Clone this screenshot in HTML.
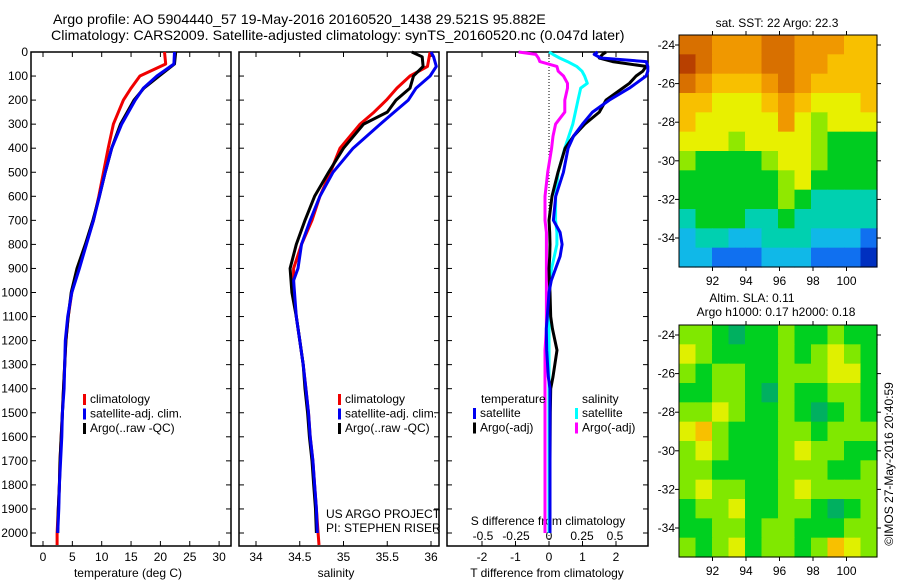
<!DOCTYPE html>
<html><head><meta charset="utf-8">
<style>
html,body{margin:0;padding:0;background:#fff;}
svg{display:block;font-family:"Liberation Sans",sans-serif;}
text{fill:#000;}
</style></head>
<body>
<svg id="fig" width="900" height="580" viewBox="0 0 900 580" xmlns="http://www.w3.org/2000/svg">
<text x="53" y="24" font-size="14.25">Argo profile: AO 5904440_57 19-May-2016 20160520_1438 29.521S 95.882E</text>
<text x="51" y="40" font-size="14.25">Climatology: CARS2009. Satellite-adjusted climatology: synTS_20160520.nc (0.047d later)</text>
</svg>
<script>
// ---------- data ----------
const depthTicks = [0,100,200,300,400,500,600,700,800,900,1000,1100,1200,1300,1400,1500,1600,1700,1800,1900,2000];
const tempTicks = [0,5,10,15,20,25,30];
const salTicks = [34,34.5,35,35.5,36];
const salTickLabels = ["34","34.5","35","35.5","36"];
const tdiffTicks = [-2,-1,0,1,2];
const sdiffTicks = [-0.5,-0.25,0,0.25,0.5];
const sdiffTickLabels = ["-0.5","-0.25","0","0.25","0.5"];

const tDepth = [0,50,100,150,200,300,400,500,600,700,800,900,1000,1100,1200,1300,1400,1500,1600,1700,1800,1900,2000,2050];
const tempClim = [20.7,20.9,16.5,15.0,13.7,12.0,11.1,10.3,9.5,8.6,7.3,6.0,4.9,4.3,3.9,3.7,3.5,3.3,3.1,2.9,2.8,2.6,2.4,2.4];
const tempSat  = [22.4,22.3,19.4,17.1,15.7,13.4,11.7,10.6,9.6,8.6,7.4,6.2,4.9,4.2,3.8,3.7,3.6,3.3,3.2,3.0,2.8,2.7,2.5];
const tempArgo = [22.6,22.4,19.8,17.2,15.5,13.2,11.7,10.6,9.6,8.5,7.2,5.8,4.8,4.3,3.9,3.7,3.5,3.3,3.1,2.9,2.8,2.6,2.5];

const sDepth = [0,20,60,100,150,200,250,300,400,500,600,700,800,900,950,1000,1100,1200,1300,1400,1500,1600,1700,1800,1900,2000,2050];
const salClim = [35.99,35.98,35.96,35.76,35.61,35.49,35.35,35.19,34.96,34.85,34.73,34.64,34.52,34.43,34.43,34.43,34.46,34.50,34.54,34.57,34.60,34.62,34.65,34.67,34.69,34.71,34.72];
const salSat  = [36.00,36.03,36.06,35.99,35.83,35.74,35.58,35.42,35.11,34.88,34.73,34.62,34.52,34.48,34.43,34.44,34.46,34.50,34.54,34.57,34.60,34.62,34.65,34.67,34.69,34.70];
const salArgo = [35.78,35.90,35.91,35.80,35.76,35.60,35.50,35.23,35.00,34.83,34.67,34.56,34.46,34.39,34.40,34.41,34.46,34.50,34.54,34.56,34.59,34.61,34.64,34.66,34.68,34.69];

const dDepth = [0,10,25,40,60,80,100,130,150,200,250,300,350,400,500,600,700,750,800,850,900,950,1000,1100,1150,1240,1350,1400,1500,1700,2000];
const tdiffSat  = [1.45,1.35,1.55,2.9,2.95,2.95,2.9,2.6,2.4,1.8,1.3,1.0,0.73,0.57,0.43,0.2,0.13,0.33,0.39,0.33,0.2,0.07,0.0,-0.05,-0.08,-0.07,-0.02,0.03,0.03,0.03,0.03];
const tdiffArgo = [1.7,1.6,1.5,1.9,2.9,2.8,2.6,2.4,2.2,1.7,1.5,1.07,0.73,0.48,0.27,0.09,0.0,0.02,0.03,0.02,0.0,0.01,0.03,0.05,0.1,0.24,0.12,0.05,0.04,0.03,0.03];
const sdiffSat  = [0.0,0.03,0.08,0.14,0.21,0.25,0.27,0.29,0.24,0.22,0.2,0.18,0.15,0.12,0.07,0.05,0.05,0.06,0.06,0.04,0.02,0.01,0.0,0.0,0.0,0.0,0.0,0.0,0.0,0.0,0.0];
const sdiffArgo = [-0.23,-0.1,-0.08,-0.07,0.06,0.07,0.11,0.14,0.14,0.12,0.12,0.05,0.03,0.02,-0.01,-0.03,-0.03,-0.02,-0.02,-0.02,-0.02,-0.02,-0.02,-0.02,-0.02,-0.03,-0.03,-0.03,-0.03,-0.03,-0.03];

const latTicks = [-24,-26,-28,-30,-32,-34];
const lonTicks = [92,94,96,98,100];
const sstGrid = [
 [9,9,8,8,8,9,9,8,8,8,7,7],
 [10,9,8,8,8,9,9,8,8,7,7,7],
 [9,8,7,7,7,8,9,8,7,7,7,7],
 [7,7,6,6,6,7,8,7,6,6,6,7],
 [7,6,6,6,6,6,8,6,5,6,6,6],
 [6,6,6,5,6,6,6,6,5,4,4,4],
 [5,4,4,4,4,5,6,6,5,4,4,4],
 [4,4,4,4,4,4,5,6,4,4,4,4],
 [4,4,4,4,4,4,5,4,3,3,3,3],
 [3,4,4,4,3,3,4,3,3,3,3,3],
 [2,3,3,2,2,3,3,3,2,2,2,1],
 [2,2,1,1,1,2,2,2,1,1,1,0]];
const slaGrid = [
 [2,2,1,0,1,1,2,1,1,2,1,1],
 [3,2,1,1,1,1,2,1,2,3,2,1],
 [2,1,2,2,1,1,2,2,2,3,3,1],
 [1,1,2,2,1,0,2,1,1,2,2,1],
 [2,2,3,2,1,1,2,1,0,1,2,1],
 [3,4,2,1,1,1,2,2,1,2,2,2],
 [2,3,2,1,1,1,2,3,2,2,1,1],
 [2,2,1,1,1,1,2,2,2,1,1,2],
 [2,3,2,2,1,1,2,3,2,2,2,2],
 [1,2,2,3,1,1,2,2,1,0,1,2],
 [1,1,2,2,1,2,2,1,1,1,2,2],
 [2,1,2,3,1,2,2,1,2,4,3,2]];
const sstColors = ["#0030c0","#1070f0","#10b8e8","#00d0b0","#00cc20","#90e800","#e8f000","#f8c000","#f09800","#d87000","#b84000"];
const slaColors = ["#00b060","#00d020","#80e800","#e0f000","#f8c000"];

// ---------- helpers ----------
const NS="http://www.w3.org/2000/svg";
const svg=document.getElementById('fig');
function mk(tag,attrs,parent){const e=document.createElementNS(NS,tag);for(const k in attrs)e.setAttribute(k,attrs[k]);(parent||svg).appendChild(e);return e;}
function txt(s,x,y,size,anchor,parent){const t=mk('text',{x:x,y:y,'font-size':size,'text-anchor':anchor||'start'},parent);t.textContent=s;return t;}

const TOP=52, BOT=546;
const yD = d => 52 + d*0.2405;
const xT = v => 43 + v*5.87;
const xS = v => 256 + (v-34)*87.5;
const xTD = v => 549 + v*33.5;
const xSD = v => 549 + v*132;

function panel(name,x0,x1){
  const g=mk('g',{});
  
  
  mk('rect',{x:x0,y:TOP,width:x1-x0,height:BOT-TOP,fill:'none',stroke:'#000','stroke-width':1.5},g);
  for(const d of depthTicks){
    mk('line',{x1:x0,x2:x0+5,y1:yD(d),y2:yD(d),stroke:'#000'},g);
    mk('line',{x1:x1,x2:x1-5,y1:yD(d),y2:yD(d),stroke:'#000'},g);
  }
  return g;
}
function line(g,xs,ds,fx,color,name){
  let pts=[];
  for(let i=0;i<xs.length;i++)pts.push(fx(xs[i]).toFixed(1)+','+yD(ds[i]).toFixed(1));
  const p=mk('polyline',{points:pts.join(' '),fill:'none',stroke:color,'stroke-width':3,'stroke-linejoin':'round'},g);
  
  
}
function legend(g,items,x,y){
  items.forEach((it,i)=>{
    const r=mk('rect',{x:x,y:y+i*14.5-9,width:3,height:11,fill:it[1]},g);
    
    
    const t=txt(it[0],x+7,y+i*14.5,12,'start',g);
    
    
  });
}

// Panel 1 temperature
const p1=panel('temperature-panel',31,231);
for(const d of depthTicks){const t=txt(String(d),28,yD(d)+4,12,'end',p1);}
for(const v of tempTicks){
  mk('line',{x1:xT(v),x2:xT(v),y1:BOT,y2:BOT-5,stroke:'#000'},p1);
  mk('line',{x1:xT(v),x2:xT(v),y1:TOP,y2:TOP+5,stroke:'#000'},p1);
  const t=txt(String(v),xT(v),561,12,'middle',p1);
}
{const t=txt('temperature (deg C)',128,577,12,'middle',p1);}
line(p1,tempClim,tDepth,xT,'#f00000','temp-climatology-line');
line(p1,tempArgo,tDepth,xT,'#000','temp-argo-line');
line(p1,tempSat,tDepth,xT,'#0000f0','temp-satellite-line');
legend(p1,[['climatology','#f00000'],['satellite-adj. clim.','#0000f0'],['Argo(..raw -QC)','#000']],83,403);

// Panel 2 salinity
const p2=panel('salinity-panel',239,439);
for(let i=0;i<salTicks.length;i++){
  const v=salTicks[i];
  mk('line',{x1:xS(v),x2:xS(v),y1:BOT,y2:BOT-5,stroke:'#000'},p2);
  mk('line',{x1:xS(v),x2:xS(v),y1:TOP,y2:TOP+5,stroke:'#000'},p2);
  const t=txt(salTickLabels[i],xS(v),561,12,'middle',p2);
}
{const t=txt('salinity',336,577,12,'middle',p2);}
line(p2,salClim,sDepth,xS,'#f00000','sal-climatology-line');
line(p2,salArgo,sDepth,xS,'#000','sal-argo-line');
line(p2,salSat,sDepth,xS,'#0000f0','sal-satellite-line');
legend(p2,[['climatology','#f00000'],['satellite-adj. clim.','#0000f0'],['Argo(..raw -QC)','#000']],338,403);
{const t=txt('US ARGO PROJECT',326,518,12,'start',p2);
 const t2=txt('PI: STEPHEN RISER',326,532,12,'start',p2);}

// Panel 3 differences
const p3=panel('difference-panel',447,648);
mk('line',{x1:549,x2:549,y1:TOP,y2:BOT,stroke:'#000','stroke-dasharray':'1,2'},p3);
for(const v of tdiffTicks){
  mk('line',{x1:xTD(v),x2:xTD(v),y1:BOT,y2:BOT-5,stroke:'#000'},p3);
  mk('line',{x1:xTD(v),x2:xTD(v),y1:TOP,y2:TOP+5,stroke:'#000'},p3);
  const t=txt(String(v),xTD(v),561,12,'middle',p3);
}
for(let i=0;i<sdiffTicks.length;i++){
  const t=txt(sdiffTickLabels[i],xSD(sdiffTicks[i]),540,12,'middle',p3);
}
{const t=txt('S difference from climatology',548,525,12,'middle',p3);
 const t2=txt('T difference from climatology',547,577,12,'middle',p3);}
line(p3,sdiffArgo,dDepth,xSD,'#ff00ff','s-diff-argo-line');
line(p3,sdiffSat,dDepth,xSD,'#00ffff','s-diff-satellite-line');
line(p3,tdiffArgo,dDepth,xTD,'#000','t-diff-argo-line');
line(p3,tdiffSat,dDepth,xTD,'#0000f0','t-diff-satellite-line');
{const t=txt('temperature',481,403,12,'start',p3);
 const t2=txt('salinity',582,403,12,'start',p3);}
legend(p3,[['satellite','#0000f0'],['Argo(-adj)','#000']],473,417);
legend(p3,[['satellite','#00ffff'],['Argo(-adj)','#ff00ff']],575,417);

// Maps
const MX0=679,MX1=877;
const xLon = v => 679 + (v-90)*16.75;
function map(name,y0,grid,colors,titleLines){
  const g=mk('g',{});
  
  
  const y1=y0+232;
  const yLat = v => y0+10 + (-24 - v)*19.3;
  const rows=grid.length, cols=grid[0].length;
  const cw=(MX1-MX0)/cols, ch=(y1-y0)/rows;
  for(let r=0;r<rows;r++)for(let c=0;c<cols;c++){
    const cell=mk('rect',{x:(MX0+c*cw).toFixed(2),y:(y0+r*ch).toFixed(2),width:(cw+0.6).toFixed(2),height:(ch+0.6).toFixed(2),fill:colors[grid[r][c]]},g);
    
    
  }
  mk('rect',{x:MX0,y:y0,width:MX1-MX0,height:y1-y0,fill:'none',stroke:'#000','stroke-width':1},g);
  for(const v of latTicks){
    mk('line',{x1:MX0-4,x2:MX0,y1:yLat(v),y2:yLat(v),stroke:'#000'},g);
    mk('line',{x1:MX1,x2:MX1+4,y1:yLat(v),y2:yLat(v),stroke:'#000'},g);
    const t=txt(String(v),675,yLat(v)+4,12,'end',g);
  }
  for(const v of lonTicks){
    mk('line',{x1:xLon(v),x2:xLon(v),y1:y1,y2:y1+4,stroke:'#000'},g);
    mk('line',{x1:xLon(v),x2:xLon(v),y1:y0-4,y2:y0,stroke:'#000'},g);
    const t=txt(String(v),xLon(v),y1+18,12,'middle',g);
  }
  titleLines.forEach(l=>{const t=txt(l[0],l[1],l[2],12,'middle',g);});
}
map('sst-map',35,sstGrid,sstColors,[['sat. SST: 22 Argo: 22.3',777,27]]);
map('sla-map',325,slaGrid,slaColors,[['Altim. SLA: 0.11',752,302],['Argo h1000: 0.17 h2000: 0.18',776,316]]);
{const t=txt('©IMOS 27-May-2016 20:40:59',0,0,12,'middle');t.setAttribute('transform','translate(893,464) rotate(-90)');}
</script>
</body></html>
